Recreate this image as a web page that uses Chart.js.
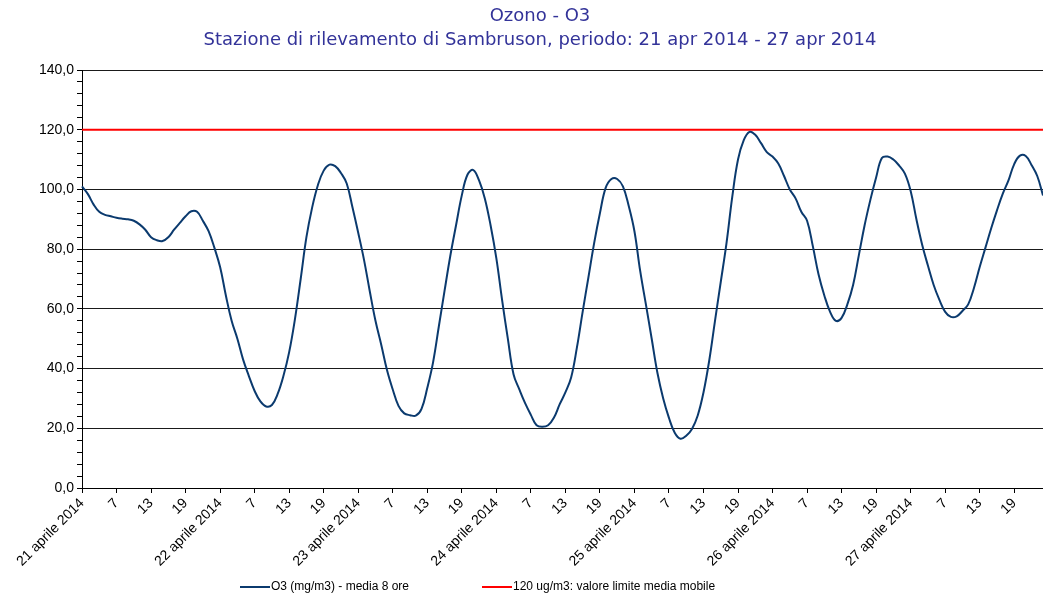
<!DOCTYPE html>
<html>
<head>
<meta charset="utf-8">
<script src="https://cdn.jsdelivr.net/npm/chart.js@4.4.1/dist/chart.umd.min.js"></script>
<style>
  html, body { margin: 0; padding: 0; background: #fff; }
  #wrap { width: 1043px; height: 599px; position: relative; }
</style>
</head>
<body>
<div id="wrap"><canvas id="chart"></canvas></div>
<script>
const days = ['21 aprile 2014', '22 aprile 2014', '23 aprile 2014', '24 aprile 2014',
              '25 aprile 2014', '26 aprile 2014', '27 aprile 2014'];

// O3 media mobile 8 ore, un valore per ogni ora (ore 1..24 di ogni giorno)
const o3 = [
  101.0, 98.5, 95.0, 92.5, 91.5, 91.0, 90.5, 90.2, 90.0, 89.5, 88.3, 86.5, 84.0, 83.0, 82.7, 84.0, 86.5, 88.8, 91.0, 92.7, 92.5, 89.5, 86.0, 80.5,
  74.0, 64.5, 56.0, 50.0, 43.0, 37.5, 32.5, 29.0, 27.3, 27.8, 31.5, 37.5, 45.5, 56.5, 70.0, 84.0, 94.0, 101.5, 106.3, 108.3, 107.8, 105.5, 102.0, 94.0,
  85.5, 76.5, 66.0, 56.0, 48.0, 39.5, 33.0, 27.5, 25.0, 24.4, 24.2, 26.5, 33.5, 42.0, 54.0, 66.0, 77.7, 88.0, 98.0, 105.0, 106.5, 103.0, 97.0, 88.0,
  77.0, 63.0, 50.0, 38.0, 33.0, 28.4, 24.5, 21.0, 20.5, 21.0, 23.5, 28.0, 32.0, 37.0, 47.0, 59.0, 70.5, 82.0, 92.0, 100.5, 103.5, 103.5, 101.0, 94.5,
  86.0, 72.7, 61.4, 50.0, 38.5, 30.0, 23.5, 18.5, 16.5, 17.5, 19.8, 24.3, 32.0, 42.7, 56.0, 69.0, 82.0, 97.5, 110.0, 116.5, 119.3, 118.3, 115.5, 112.5,
  111.0, 108.7, 104.5, 100.0, 97.0, 92.5, 89.5, 81.0, 71.5, 64.5, 59.0, 56.0, 57.0, 61.5, 68.0, 78.0, 88.0, 96.5, 104.0, 110.5, 111.0, 110.0, 108.0, 105.3,
  99.5, 90.0, 81.5, 74.5, 68.0, 63.0, 59.0, 57.3, 57.5, 59.3, 61.5, 67.0, 74.0, 80.5, 87.0, 93.0, 98.5, 103.0, 108.5, 111.3, 111.2, 108.2, 104.5, 98.0
];

const limite = 120; // ug/m3, valore limite media mobile

const titolo = ['Ozono - O3', 'Stazione di rilevamento di Sambruson, periodo: 21 apr 2014 - 27 apr 2014'];
const serieNomi = ['O3 (mg/m3) - media 8 ore', '120 ug/m3: valore limite media mobile'];

// un'etichetta per ora: la data alla prima ora, poi il numero dell'ora
const labels = days.flatMap(d => Array.from({ length: 24 }, (_, h) => h === 0 ? d : String(h + 1)));

// titolo e legenda disegnati a mano per metterli dove sono nell'originale
const titoloLegenda = {
    id: 'titoloLegenda',
    afterDraw(chart, args, opts) {
        const ctx = chart.ctx;
        ctx.save();
        ctx.fillStyle = '#333399';
        ctx.font = '18px "DejaVu Sans"';
        ctx.textAlign = 'center';
        ctx.textBaseline = 'middle';
        ctx.fillText(titolo[0], opts.titleX, 16);
        ctx.fillText(titolo[1], opts.titleX, 40);

        ctx.font = '12px "Liberation Sans"';
        ctx.textAlign = 'left';
        chart.data.datasets.forEach((ds, i) => {
            const x = opts.legendX[i];
            const y = opts.legendY;
            ctx.strokeStyle = ds.borderColor;
            ctx.lineWidth = 2;
            ctx.beginPath();
            ctx.moveTo(x, y);
            ctx.lineTo(x + 30, y);
            ctx.stroke();
            ctx.fillStyle = '#000';
            ctx.fillText(ds.label, x + 31, y);
        });
        ctx.restore();
    }
};

new Chart(document.getElementById('chart'), {
    type: 'line',
    data: {
        labels: labels,
        datasets: [
            {
                label: serieNomi[0],
                data: o3,
                borderColor: '#0b3a6e',
                borderWidth: 2,
                pointRadius: 0,
                tension: 0.4,
                fill: false,
            },
            {
                label: serieNomi[1],
                data: labels.map(() => limite),
                borderColor: '#ff0000',
                borderWidth: 2,
                pointRadius: 0,
                fill: false,
            },
        ],
    },
    options: {
        responsive: true,
        maintainAspectRatio: false,
        animation: false,
        layout: { padding: { top: 70, right: 0, bottom: 0, left: 0 } },
        plugins: {
            legend: { display: false },
            title: { display: false },
            tooltip: { enabled: false },
            titoloLegenda: { titleX: 540, legendX: [240, 482], legendY: 587 },
        },
        scales: {
            x: {
                offset: false,
                afterFit: (scale) => { scale.height = 111; scale.paddingRight = 0; },
                border: { color: '#000', width: 1 },
                grid: {
                    color: 'rgba(0,0,0,0)',
                    drawTicks: true,
                    tickLength: 5,
                    tickColor: (ctx) => ctx.index % 6 === 0 ? '#000' : 'rgba(0,0,0,0)',
                },
                ticks: {
                    autoSkip: false,
                    minRotation: 45,
                    maxRotation: 45,
                    padding: 2,
                    color: '#000',
                    font: { family: 'Liberation Sans', size: 14 },
                    callback: function (value, index) {
                        return index % 6 === 0 ? this.getLabelForValue(value) : '';
                    },
                },
            },
            y: {
                min: 0,
                max: 140,
                afterFit: (scale) => { scale.width = 82; },
                border: { color: '#000', width: 1 },
                grid: {
                    color: (ctx) => ctx.tick && ctx.tick.value % 20 === 0 ? '#1a1a1a' : 'rgba(0,0,0,0)',
                    drawTicks: true,
                    tickLength: 5,
                    tickColor: '#000',
                },
                ticks: {
                    stepSize: 4,
                    autoSkip: false,
                    padding: 3,
                    color: '#000',
                    font: { family: 'Liberation Sans', size: 14 },
                    callback: (v) => v % 20 === 0 ? v.toFixed(1).replace('.', ',') : '',
                },
            },
        },
    },
    plugins: [titoloLegenda],
});
</script>
</body>
</html>
